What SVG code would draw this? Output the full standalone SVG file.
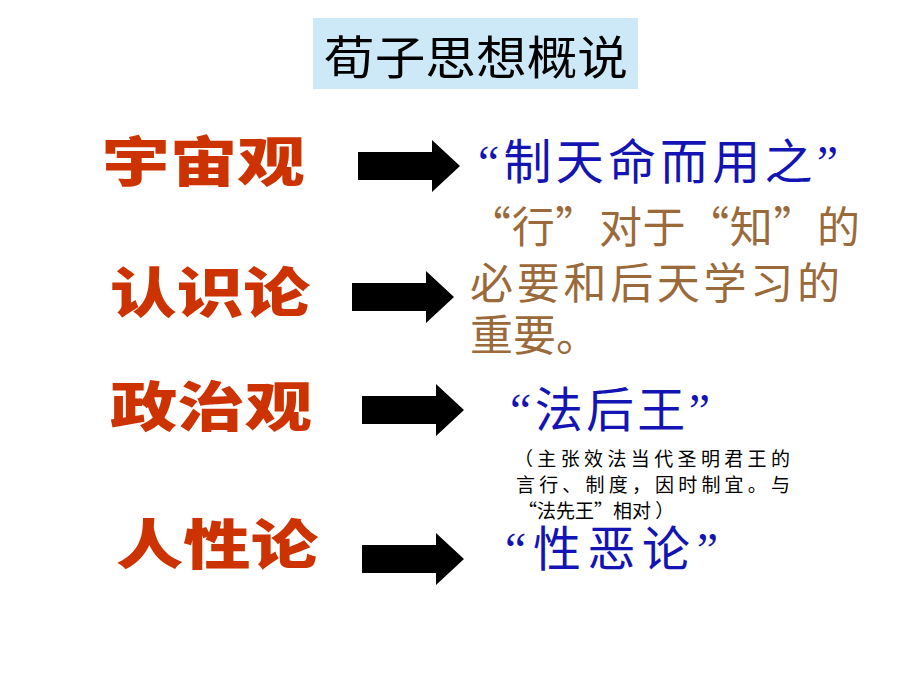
<svg xmlns="http://www.w3.org/2000/svg" width="920" height="690" viewBox="0 0 920 690">
<defs>
<style>
.lbl{font-family:"Noto Sans CJK SC","Liberation Sans",sans-serif;font-weight:900;fill:#cc3300;font-size:54px}
.blue{font-family:"Liberation Serif","Noto Sans CJK SC",serif;fill:#1414b4;font-size:48px}
.brown{font-family:"Noto Sans CJK SC","Liberation Sans",sans-serif;fill:#9b6a3a;font-size:43px}
.small{font-family:"Noto Sans CJK SC","Liberation Sans",sans-serif;fill:#000;font-size:19px}
.title{font-family:"Noto Sans CJK SC","Liberation Sans",sans-serif;fill:#000;font-size:46px}
.arr{fill:#000}
</style>
<path id="arrow" d="M0,12 H74 V0 L102,26 L74,52 V40 H0 Z"/>
</defs>
<rect width="920" height="690" fill="#fff"/>
<g id="title">
<rect x="313" y="18" width="325" height="71" fill="#cde9f8"/>
<text class="title" x="324" y="74" textLength="304" lengthAdjust="spacingAndGlyphs">荀子思想概说</text>
</g>
<g id="connectors">
<use href="#arrow" class="arr" x="358" y="140"/>
<use href="#arrow" class="arr" x="352" y="271"/>
<use href="#arrow" class="arr" x="362" y="384"/>
<use href="#arrow" class="arr" x="362" y="533"/>
</g>
<g id="n1"><text class="lbl" x="102" y="182" textLength="203" lengthAdjust="spacingAndGlyphs">宇宙观</text></g>
<g id="n2"><text class="lbl" x="110" y="313" textLength="200" lengthAdjust="spacingAndGlyphs">认识论</text></g>
<g id="n3"><text class="lbl" x="110" y="427" textLength="202" lengthAdjust="spacingAndGlyphs">政治观</text></g>
<g id="n4"><text class="lbl" x="116" y="565" textLength="202" lengthAdjust="spacingAndGlyphs">人性论</text></g>
<g id="r1"><text class="blue" x="478" y="179" textLength="360" lengthAdjust="spacing">“制天命而用之”</text></g>
<g id="r2">
<text class="brown" x="468" y="243" textLength="392" lengthAdjust="spacing">“行”对于“知”的</text>
<text class="brown" x="470" y="299" textLength="370" lengthAdjust="spacing">必要和后天学习的</text>
<text class="brown" x="470" y="351">重要。</text>
</g>
<g id="r3"><text class="blue" x="510" y="427" textLength="200" lengthAdjust="spacing">“法后王”</text></g>
<g id="r3note">
<text class="small" x="514" y="466" textLength="276" lengthAdjust="spacing">（主张效法当代圣明君王的</text>
<text class="small" x="516" y="492" textLength="274" lengthAdjust="spacing">言行、制度，因时制宜。与</text>
<text class="small" x="518" y="518">“法先王”相对 ）</text>
</g>
<g id="r4"><text class="blue" x="505" y="566" textLength="213" lengthAdjust="spacing">“性恶论”</text></g>
</svg>
